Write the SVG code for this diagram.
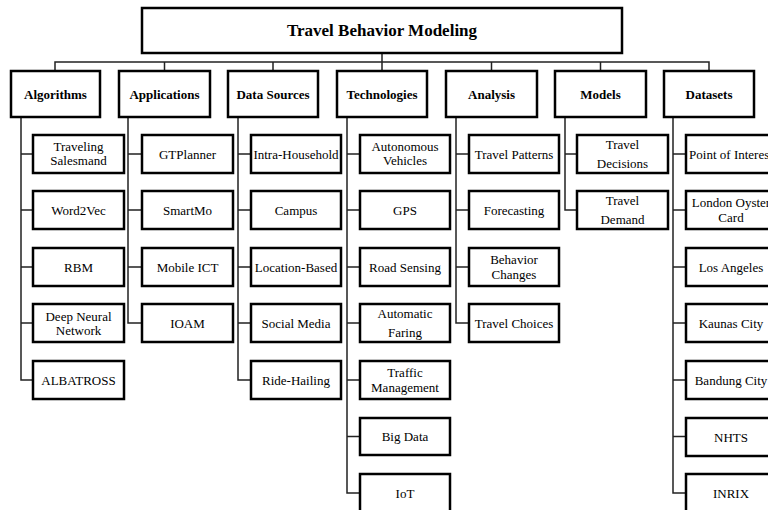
<svg xmlns="http://www.w3.org/2000/svg" width="768" height="510" viewBox="0 0 768 510">
<style>
.box{fill:#fff;stroke:#000;stroke-width:2.5}
.c{fill:none;stroke:#222;stroke-width:1.5}
text{font-family:"Liberation Serif","Times New Roman",serif;fill:#000;text-anchor:middle}
.t{font-size:17px;font-weight:bold}
.h{font-size:13px;font-weight:bold}
.l{font-size:13px}
</style>
<rect width="768" height="510" fill="#fff"/>
<g id="connectors">
<path class="c" d="M382 53V62M55 71V62H709V71M164.5 62V71M273 62V71M382 62V71M491.5 62V71M600.5 62V71"/>
<path class="c" d="M21 117V380H33M21 154H33M21 210H33M21 267H33M21 323H33"/>
<path class="c" d="M128 117V323H142M128 154H142M128 210H142M128 267H142"/>
<path class="c" d="M238 117V380H251M238 154H251M238 210H251M238 267H251M238 323H251"/>
<path class="c" d="M347 117V493H360M347 154H360M347 210H360M347 267H360M347 323H360M347 380H360M347 436.5H360"/>
<path class="c" d="M456 117V323H469M456 154H469M456 210H469M456 267H469"/>
<path class="c" d="M565 117V210H577M565 154H577"/>
<path class="c" d="M673 117V493H686M673 154H686M673 210H686M673 267H686M673 323H686M673 380H686M673 436.5H686"/>
</g>
<g id="root"><rect class="box" x="142" y="8" width="480" height="45"/><text class="t" x="382" y="36">Travel Behavior Modeling</text></g>
<g id="algorithms"><rect class="box" x="11" y="71" width="89" height="46"/><text class="h" x="55.5" y="98.5">Algorithms</text></g>
<g id="applications"><rect class="box" x="119" y="71" width="91" height="46"/><text class="h" x="164.5" y="98.5">Applications</text></g>
<g id="data-sources"><rect class="box" x="228" y="71" width="90" height="46"/><text class="h" x="273" y="98.5">Data Sources</text></g>
<g id="technologies"><rect class="box" x="337" y="71" width="90" height="46"/><text class="h" x="382" y="98.5">Technologies</text></g>
<g id="analysis"><rect class="box" x="446" y="71" width="91" height="46"/><text class="h" x="491.5" y="98.5">Analysis</text></g>
<g id="models"><rect class="box" x="555" y="71" width="91" height="46"/><text class="h" x="600.5" y="98.5">Models</text></g>
<g id="datasets"><rect class="box" x="664" y="71" width="90" height="46"/><text class="h" x="709" y="98.5">Datasets</text></g>

<g id="traveling-salesmand"><rect class="box" x="33" y="135" width="91" height="38"/><text class="l" x="78.5" y="151">Traveling</text><text class="l" x="78.5" y="165">Salesmand</text></g>
<g id="word2vec"><rect class="box" x="33" y="191" width="91" height="38"/><text class="l" x="78.5" y="214.5">Word2Vec</text></g>
<g id="rbm"><rect class="box" x="33" y="248" width="91" height="38"/><text class="l" x="78.5" y="271.5">RBM</text></g>
<g id="deep-neural-network"><rect class="box" x="33" y="304" width="91" height="38"/><text class="l" x="78.5" y="320.5">Deep Neural</text><text class="l" x="78.5" y="334.5">Network</text></g>
<g id="albatross"><rect class="box" x="33" y="361" width="91" height="38"/><text class="l" x="78.5" y="384.5">ALBATROSS</text></g>

<g id="gtplanner"><rect class="box" x="142" y="135" width="91" height="38"/><text class="l" x="187.5" y="158.5">GTPlanner</text></g>
<g id="smartmo"><rect class="box" x="142" y="191" width="91" height="38"/><text class="l" x="187.5" y="214.5">SmartMo</text></g>
<g id="mobile-ict"><rect class="box" x="142" y="248" width="91" height="38"/><text class="l" x="187.5" y="271.5">Mobile ICT</text></g>
<g id="ioam"><rect class="box" x="142" y="304" width="91" height="38"/><text class="l" x="187.5" y="327.5">IOAM</text></g>

<g id="intra-household"><rect class="box" x="251" y="135" width="90" height="38"/><text class="l" x="296" y="158.5">Intra-Household</text></g>
<g id="campus"><rect class="box" x="251" y="191" width="90" height="38"/><text class="l" x="296" y="214.5">Campus</text></g>
<g id="location-based"><rect class="box" x="251" y="248" width="90" height="38"/><text class="l" x="296" y="271.5">Location-Based</text></g>
<g id="social-media"><rect class="box" x="251" y="304" width="90" height="38"/><text class="l" x="296" y="327.5">Social Media</text></g>
<g id="ride-hailing"><rect class="box" x="251" y="361" width="90" height="38"/><text class="l" x="296" y="384.5">Ride-Hailing</text></g>

<g id="autonomous-vehicles"><rect class="box" x="360" y="135" width="90" height="38"/><text class="l" x="405" y="151">Autonomous</text><text class="l" x="405" y="165">Vehicles</text></g>
<g id="gps"><rect class="box" x="360" y="191" width="90" height="38"/><text class="l" x="405" y="214.5">GPS</text></g>
<g id="road-sensing"><rect class="box" x="360" y="248" width="90" height="38"/><text class="l" x="405" y="271.5">Road Sensing</text></g>
<g id="automatic-faring"><rect class="box" x="360" y="304" width="90" height="38"/><text class="l" x="405" y="317.5">Automatic</text><text class="l" x="405" y="336.5">Faring</text></g>
<g id="traffic-management"><rect class="box" x="360" y="361" width="90" height="38"/><text class="l" x="405" y="377">Traffic</text><text class="l" x="405" y="391.5">Management</text></g>
<g id="big-data"><rect class="box" x="360" y="418" width="90" height="37"/><text class="l" x="405" y="441">Big Data</text></g>
<g id="iot"><rect class="box" x="360" y="474" width="90" height="38"/><text class="l" x="405" y="497.5">IoT</text></g>

<g id="travel-patterns"><rect class="box" x="469" y="135" width="90" height="38"/><text class="l" x="514" y="158.5">Travel Patterns</text></g>
<g id="forecasting"><rect class="box" x="469" y="191" width="90" height="38"/><text class="l" x="514" y="214.5">Forecasting</text></g>
<g id="behavior-changes"><rect class="box" x="469" y="248" width="90" height="38"/><text class="l" x="514" y="264">Behavior</text><text class="l" x="514" y="278.5">Changes</text></g>
<g id="travel-choices"><rect class="box" x="469" y="304" width="90" height="38"/><text class="l" x="514" y="327.5">Travel Choices</text></g>

<g id="travel-decisions"><rect class="box" x="577" y="135" width="91" height="38"/><text class="l" x="622.5" y="148.5">Travel</text><text class="l" x="622.5" y="167.5">Decisions</text></g>
<g id="travel-demand"><rect class="box" x="577" y="191" width="91" height="38"/><text class="l" x="622.5" y="204.5">Travel</text><text class="l" x="622.5" y="223.5">Demand</text></g>

<g id="point-of-interest"><rect class="box" x="686" y="135" width="90" height="38"/><text class="l" x="731" y="158.5">Point of Interest</text></g>
<g id="london-oyster-card"><rect class="box" x="686" y="191" width="90" height="38"/><text class="l" x="731" y="207">London Oyster</text><text class="l" x="731" y="221.5">Card</text></g>
<g id="los-angeles"><rect class="box" x="686" y="248" width="90" height="38"/><text class="l" x="731" y="271.5">Los Angeles</text></g>
<g id="kaunas-city"><rect class="box" x="686" y="304" width="90" height="38"/><text class="l" x="731" y="327.5">Kaunas City</text></g>
<g id="bandung-city"><rect class="box" x="686" y="361" width="90" height="38"/><text class="l" x="731" y="384.5">Bandung City</text></g>
<g id="nhts"><rect class="box" x="686" y="418" width="90" height="38"/><text class="l" x="731" y="441.5">NHTS</text></g>
<g id="inrix"><rect class="box" x="686" y="474" width="90" height="38"/><text class="l" x="731" y="497.5">INRIX</text></g>
</svg>
